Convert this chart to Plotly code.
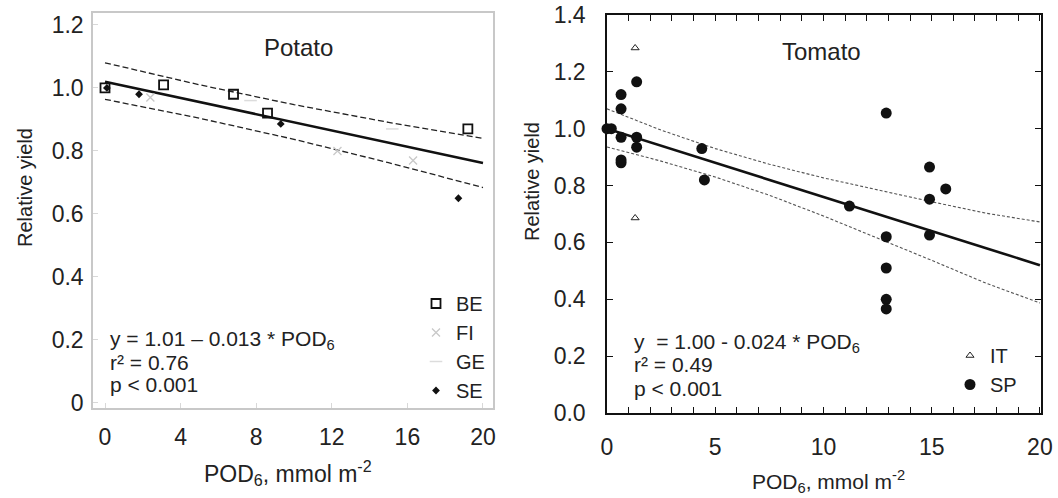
import plotly.graph_objects as go

W, H = 1058, 498

# ---------------- Potato data ----------------
be_x = [0.0, 3.1, 6.8, 8.6, 19.2]
be_y = [1.00, 1.01, 0.98, 0.92, 0.87]
fi_x = [2.4, 12.3, 16.3]
fi_y = [0.97, 0.80, 0.77]
ge_x = [7.7, 15.2]
ge_y = [0.96, 0.87]
se_x = [0.1, 1.8, 9.3, 18.7]
se_y = [1.00, 0.98, 0.886, 0.65]

pot_fit_x = [0, 20]
pot_fit_y = [1.02, 0.762]
pot_band_x = [0, 5, 10, 15, 20]
pot_upper = [1.08, 1.01, 0.947, 0.891, 0.84]
pot_lower = [0.964, 0.904, 0.837, 0.763, 0.684]

pot_xticks = [0, 4, 8, 12, 16, 20]
pot_yticks = [0, 0.2, 0.4, 0.6, 0.8, 1.0, 1.2]
pot_yticktext = ["0", "0.2", "0.4", "0.6", "0.8", "1.0", "1.2"]

# ---------------- Tomato data ----------------
it_x = [1.3, 1.3]
it_y = [1.284, 0.686]
sp_x = [0.0, 0.2, 0.65, 0.65, 0.65, 0.65, 0.65, 1.37, 1.37, 1.37, 4.38, 4.5,
        11.2, 12.9, 14.9, 15.65, 14.9, 14.9, 12.9, 12.9, 12.9, 12.9]
sp_y = [1.0, 1.0, 1.12, 1.07, 0.97, 0.88, 0.89, 1.165, 0.97, 0.935, 0.93, 0.82,
        0.728, 1.055, 0.865, 0.788, 0.752, 0.626, 0.62, 0.51, 0.40, 0.366]

tom_fit_x = [0, 20]
tom_fit_y = [1.00, 0.52]
tom_band_x = [0, 2.5, 5, 7.5, 10, 12.5, 15, 17.5, 20]
tom_upper = [1.07, 0.995, 0.93, 0.875, 0.827, 0.784, 0.743, 0.703, 0.672]
tom_lower = [0.936, 0.886, 0.83, 0.766, 0.693, 0.616, 0.537, 0.457, 0.387]

tom_xticks = list(range(0, 21))
tom_xticktext = [str(v) if v % 5 == 0 else "" for v in tom_xticks]
tom_yticks = [0, 0.2, 0.4, 0.6, 0.8, 1.0, 1.2, 1.4]
tom_yticktext = ["0.0", "0.2", "0.4", "0.6", "0.8", "1.0", "1.2", "1.4"]

FONT = "Liberation Sans, Arial, sans-serif"
TXT = "#222222"


def px(xp):
    return xp / W


def py(yp):
    return 1 - yp / H


fig = go.Figure()

# ---- Potato traces ----
fig.add_trace(go.Scatter(x=pot_band_x, y=pot_upper, mode="lines", xaxis="x", yaxis="y",
                         line=dict(color="#222", width=1.3, dash="6px,3px"), showlegend=False))
fig.add_trace(go.Scatter(x=pot_band_x, y=pot_lower, mode="lines", xaxis="x", yaxis="y",
                         line=dict(color="#222", width=1.3, dash="6px,3px"), showlegend=False))
fig.add_trace(go.Scatter(x=pot_fit_x, y=pot_fit_y, mode="lines", xaxis="x", yaxis="y",
                         line=dict(color="#111", width=2.6), showlegend=False))
fig.add_trace(go.Scatter(x=be_x, y=be_y, mode="markers", name="BE", xaxis="x", yaxis="y",
                         marker=dict(symbol="square-open", size=9, color="#111",
                                     line=dict(width=1.8, color="#111")),
                         legend="legend", cliponaxis=False))
fig.add_trace(go.Scatter(x=fi_x, y=fi_y, mode="markers", name="FI", xaxis="x", yaxis="y",
                         marker=dict(symbol="x-thin-open", size=8, color="#c8c8c8",
                                     line=dict(width=1.3, color="#c8c8c8")),
                         legend="legend", cliponaxis=False))
fig.add_trace(go.Scatter(x=ge_x, y=ge_y, mode="markers", name="GE", xaxis="x", yaxis="y",
                         marker=dict(symbol="line-ew-open", size=9, color="#dcdcdc",
                                     line=dict(width=1.5, color="#dcdcdc")),
                         legend="legend", cliponaxis=False))
fig.add_trace(go.Scatter(x=se_x, y=se_y, mode="markers", name="SE", xaxis="x", yaxis="y",
                         marker=dict(symbol="diamond", size=6, color="#111"),
                         legend="legend", cliponaxis=False))

# ---- Tomato traces ----
fig.add_trace(go.Scatter(x=tom_band_x, y=tom_upper, mode="lines", xaxis="x2", yaxis="y2",
                         line=dict(color="#555", width=1.1, dash="3px,2px"), showlegend=False))
fig.add_trace(go.Scatter(x=tom_band_x, y=tom_lower, mode="lines", xaxis="x2", yaxis="y2",
                         line=dict(color="#555", width=1.1, dash="3px,2px"), showlegend=False))
fig.add_trace(go.Scatter(x=tom_fit_x, y=tom_fit_y, mode="lines", xaxis="x2", yaxis="y2",
                         line=dict(color="#111", width=2.6), showlegend=False))
fig.add_trace(go.Scatter(x=it_x, y=it_y, mode="markers", name="IT", xaxis="x2", yaxis="y2",
                         marker=dict(symbol="triangle-up-open", size=7, color="#222",
                                     line=dict(width=1, color="#222")),
                         legend="legend2", cliponaxis=False))
fig.add_trace(go.Scatter(x=sp_x, y=sp_y, mode="markers", name="SP", xaxis="x2", yaxis="y2",
                         marker=dict(symbol="circle", size=11, color="#111"),
                         legend="legend2", cliponaxis=False))

axis_common = dict(showgrid=False, zeroline=False, ticks="inside", automargin=False,
                   tickfont=dict(family=FONT, size=23, color=TXT))

fig.update_layout(
    width=W, height=H,
    margin=dict(l=0, r=0, t=0, b=0, pad=0, autoexpand=False),
    paper_bgcolor="white", plot_bgcolor="white",
    font=dict(family=FONT, color=TXT),
    xaxis=dict(domain=[px(93), px(493)], range=[-0.635, 20.53], anchor="y",
               tickvals=pot_xticks, showline=True, mirror=True, linecolor="#c8c8c8",
               linewidth=1.5, tickcolor="#d8d8d8", ticklen=5, ticklabelstandoff=8,
               **axis_common),
    yaxis=dict(domain=[py(408), py(13)], range=[-0.0159, 1.238], anchor="x",
               tickvals=pot_yticks, ticktext=pot_yticktext, showline=True, mirror=True,
               linecolor="#c8c8c8", linewidth=1.5, tickcolor="#d8d8d8", ticklen=5,
               ticklabelstandoff=3, **axis_common),
    xaxis2=dict(domain=[px(607), px(1041)], range=[0, 20.05], anchor="y2",
                tickvals=tom_xticks, ticktext=tom_xticktext, showline=True, mirror="ticks",
                linecolor="#111", linewidth=1.5, tickcolor="#111", ticklen=6,
                ticklabelstandoff=13, **axis_common),
    yaxis2=dict(domain=[py(413), py(15)], range=[0, 1.4], anchor="x2",
                tickvals=tom_yticks, ticktext=tom_yticktext, showline=True, mirror="ticks",
                linecolor="#111", linewidth=1.5, tickcolor="#111", ticklen=6,
                ticklabelstandoff=15, **axis_common),
    legend=dict(x=px(416), y=py(284), xanchor="left", yanchor="top",
                bgcolor="rgba(0,0,0,0)", font=dict(family=FONT, size=20, color=TXT),
                itemwidth=30, tracegroupgap=0),
    legend2=dict(x=px(950), y=py(336), xanchor="left", yanchor="top",
                 bgcolor="rgba(0,0,0,0)", font=dict(family=FONT, size=20, color=TXT),
                 itemwidth=30, tracegroupgap=0),
)

annotations = [
    # panel titles
    dict(text="Potato", x=px(298), y=py(48), size=24),
    dict(text="Tomato", x=px(821), y=py(52), size=24),
    # x titles
    dict(text="POD<sub>6</sub>, mmol m<sup>-2</sup>", x=px(288), y=py(473), size=23),
    dict(text="POD<sub>6</sub>, mmol m<sup>-2</sup>", x=px(828), y=py(481), size=21),
    # potato stats
    dict(text="y = 1.01 \u2013 0.013 * POD<sub>6</sub>", x=px(108), y=py(340), size=21, xanchor="left"),
    dict(text="r\u00b2 = 0.76", x=px(108), y=py(362), size=21, xanchor="left"),
    dict(text="p < 0.001", x=px(108), y=py(384), size=21, xanchor="left"),
    # tomato stats
    dict(text="y  = 1.00 - 0.024 * POD<sub>6</sub>", x=px(632), y=py(343), size=21, xanchor="left"),
    dict(text="r\u00b2 = 0.49", x=px(632), y=py(364), size=21, xanchor="left"),
    dict(text="p < 0.001", x=px(632), y=py(388), size=21, xanchor="left"),
]
ann_objs = []
for a in annotations:
    ann_objs.append(dict(text=a["text"], x=a["x"], y=a["y"], xref="paper", yref="paper",
                         xanchor=a.get("xanchor", "center"), yanchor="middle",
                         showarrow=False, font=dict(family=FONT, size=a["size"], color=TXT)))
# y titles
ann_objs.append(dict(text="Relative yield", x=px(25), y=py(188), xref="paper", yref="paper",
                     textangle=-90, showarrow=False, xanchor="center", yanchor="middle",
                     font=dict(family=FONT, size=20, color=TXT)))
ann_objs.append(dict(text="Relative yield", x=px(532), y=py(182), xref="paper", yref="paper",
                     textangle=-90, showarrow=False, xanchor="center", yanchor="middle",
                     font=dict(family=FONT, size=20, color=TXT)))
fig.update_layout(annotations=ann_objs)

fig.write_html("out.html", config={"displayModeBar": False},
               post_script="document.body.style.margin='0';document.body.style.padding='0';")
